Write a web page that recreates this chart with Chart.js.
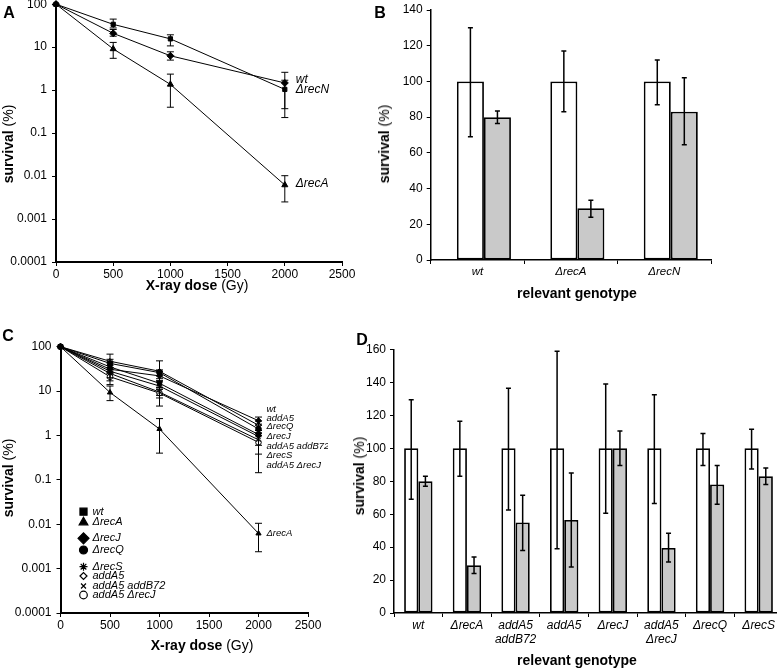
<!DOCTYPE html>
<html lang="en">
<head>
<meta charset="UTF-8">
<title>Survival after X-ray</title>
<script src="https://cdn.jsdelivr.net/npm/chart.js@4.4.1/dist/chart.umd.min.js"></script>
<style>
    body {
        margin: 0;
        width: 777px;
        height: 670px;
        overflow: hidden;
        background: #fff;
        position: relative;
        font-family: 'Liberation Sans', Arial, sans-serif;
        color: #000;
    }
    .box { position: absolute; }
    .txt {
        position: absolute;
        white-space: nowrap;
        transform: translate(-50%, -50%);
        font-size: 14px;
    }
    .txt b { font-weight: bold; }
    .rot { transform: translate(-50%, -50%) rotate(-90deg); }
    .letter { font-size: 16px; font-weight: bold; }
</style>
</head>
<body>
    <div class="box" id="boxA" style="left:0;top:-8px;width:362px;height:300px"><canvas id="chartA"></canvas></div>
    <div class="box" id="boxB" style="left:390px;top:-2px;width:341px;height:296px"><canvas id="chartB"></canvas></div>
    <div class="box" id="boxC" style="left:0;top:334px;width:328px;height:309px"><canvas id="chartC"></canvas></div>
    <div class="box" id="boxD" style="left:360px;top:337px;width:443px;height:316px"><canvas id="chartD"></canvas></div>

    <div class="txt letter" style="left:9px;top:13px">A</div>
    <div class="txt letter" style="left:380px;top:13px">B</div>
    <div class="txt letter" style="left:8px;top:336px">C</div>
    <div class="txt letter" style="left:362px;top:340px">D</div>

    <div class="txt" style="left:197px;top:285px"><b>X-ray dose</b> (Gy)</div>
    <div class="txt rot" style="left:8px;top:144px"><b>survival</b> (%)</div>
    <div class="txt" style="left:577px;top:293px"><b>relevant genotype</b></div>
    <div class="txt rot" style="left:384px;top:144px"><b>survival</b> (%)</div>
    <div class="txt" style="left:202px;top:645px"><b>X-ray dose</b> (Gy)</div>
    <div class="txt rot" style="left:8px;top:478px"><b>survival</b> (%)</div>
    <div class="txt" style="left:577px;top:660px"><b>relevant genotype</b></div>
    <div class="txt rot" style="left:359px;top:476px"><b>survival</b> (%)</div>

<script>
    // ---- data ----
    const doses = [0, 500, 1000, 2000];
    const logTicks = [0.0001, 0.001, 0.01, 0.1, 1, 10, 100];

    // panel A
    const aWt = [100, 21, 6.3, 1.47];
    const aWtHi = [null, 25.8, 7.8, 2.6];
    const aWtLo = [null, 18, 5.0, 0.37];
    const aRecN = [100, 34, 15.6, 1.04];
    const aRecNHi = [null, 45, 19.4, 1.7];
    const aRecNLo = [null, 28, 10.7, 0.23];
    const aRecA = [100, 9.1, 1.36, 0.0062];
    const aRecAHi = [null, 12.9, 2.36, 0.0102];
    const aRecALo = [null, 5.5, 0.40, 0.0025];
    const aLabels = ['wt', 'ΔrecN', 'ΔrecA'];
    const aLabelAt = [1.8, 1.0, 0.0065];

    // panel B
    const genoB = ['wt', 'ΔrecA', 'ΔrecN'];
    const bCtrl = [100, 100, 100];
    const bCtrlHi = [130, 117, 112];
    const bCtrlLo = [69, 83, 87];
    const bTreat = [80, 29, 83];
    const bTreatHi = [83.5, 33.5, 102];
    const bTreatLo = [76.5, 24, 64.5];

    // panel C
    const cWt = [100, 35, 15, 1.05];
    const cWtHi = [null, 45, 19, null];
    const cWtLo = [null, 27, 11, null];
    const cRecA = [100, 9.3, 1.4, 0.0062];
    const cRecAHi = [null, 13, 2.4, 0.0105];
    const cRecALo = [null, 6.1, 0.4, 0.0024];
    const cRecJ = [100, 31, 22, 2.15];
    const cRecJHi = [null, 38, 28, 2.6];
    const cRecJLo = [null, 25, 17, 1.8];
    const cRecQ = [100, 42, 26, 1.4];
    const cRecQHi = [null, 52, 30, 1.7];
    const cRecQLo = [null, 34, 22, 1.15];
    const cRecS = [100, 28, 13, 0.95];
    const cRecSHi = [null, 34, 16, 1.3];
    const cRecSLo = [null, 14, 8, 0.38];
    const cAddA5 = [100, 47, 28, 1.7];
    const cAddA5Hi = [null, 68, 48, 2.1];
    const cAddA5Lo = [null, 33, 17, 1.3];
    const cAddAB = [100, 25, 9.5, 0.8];
    const cAddABHi = [null, 30, 12, 1.0];
    const cAddABLo = [null, 20, 4.6, 0.6];
    const cAddRecJ = [100, 21, 9, 0.7];
    const cAddRecJHi = [null, 26, 11, 1.1];
    const cAddRecJLo = [null, 17, 7, 0.145];
    const cLabels = ['wt', 'addA5', 'ΔrecQ', 'ΔrecJ', 'addA5 addB72', 'ΔrecS', 'addA5 ΔrecJ', 'ΔrecA'];
    const cLabelAt = [3.9, 2.45, 1.58, 0.94, 0.58, 0.36, 0.21, 0.0063];

    // panel D
    const genoD = ['wt', 'ΔrecA', ['addA5', 'addB72'], 'addA5', 'ΔrecJ', ['addA5', 'ΔrecJ'], 'ΔrecQ', 'ΔrecS'];
    const dCtrl = [100, 100, 100, 100, 100, 100, 100, 100];
    const dCtrlHi = [129.5, 116.5, 136.5, 159, 139, 132.5, 109, 111.5];
    const dCtrlLo = [69, 83, 62.5, 39, 60.5, 66.5, 89.5, 87.5];
    const dTreat = [80, 29, 55, 56.5, 100, 39.5, 78, 83];
    const dTreatHi = [83, 34, 71.5, 85, 110.5, 48.5, 89.5, 88];
    const dTreatLo = [77, 24, 38, 28, 89.5, 31, 66, 78];

    // ---- common ----
    Chart.defaults.font.family = "'Liberation Sans', Arial, sans-serif";
    Chart.defaults.font.size = 12;
    Chart.defaults.color = '#000';
    const GREY = '#c9c9c9';

    // draws vertical error bars from dataset.errHi / dataset.errLo
    const errorBars = {
        id: 'errorBars',
        afterDatasetsDraw(chart) {
            const ctx = chart.ctx;
            chart.data.datasets.forEach((ds, i) => {
                if (!ds.errHi) return;
                const meta = chart.getDatasetMeta(i);
                const ys = chart.scales[meta.yAxisID];
                const c = ds.capHalf || 3.5;
                ctx.save();
                ctx.strokeStyle = '#000';
                ctx.lineWidth = ds.errWidth || 1;
                meta.data.forEach((el, j) => {
                    if (ds.errHi[j] == null) return;
                    const x = el.x;
                    const yh = ys.getPixelForValue(ds.errHi[j]);
                    const yl = ys.getPixelForValue(ds.errLo[j]);
                    ctx.beginPath();
                    ctx.moveTo(x, yh); ctx.lineTo(x, yl);
                    ctx.moveTo(x - c, yh); ctx.lineTo(x + c, yh);
                    ctx.moveTo(x - c, yl); ctx.lineTo(x + c, yl);
                    ctx.stroke();
                });
                ctx.restore();
            });
        }
    };

    // italic labels next to the last dose
    function endLabels(texts, at, dx, size) {
        return {
            id: 'endLabels',
            afterDraw(chart) {
                const ctx = chart.ctx;
                const x = chart.scales.x.getPixelForValue(2000) + dx;
                ctx.save();
                ctx.font = 'italic ' + size + "px 'Liberation Sans', Arial, sans-serif";
                ctx.fillStyle = '#000';
                ctx.textBaseline = 'middle';
                texts.forEach((t, i) => ctx.fillText(t, x, chart.scales.y.getPixelForValue(at[i])));
                ctx.restore();
            }
        };
    }

    function lineSet(label, ys, hi, lo, style, fill, radius) {
        return {
            label,
            data: doses.map((d, i) => ({ x: d, y: ys[i] })),
            errHi: hi, errLo: lo,
            borderColor: '#000', borderWidth: 1,
            pointStyle: style, pointRadius: radius,
            pointBackgroundColor: fill, pointBorderColor: '#000', pointBorderWidth: 1,
            clip: false
        };
    }

    function doseScales(yWidth, xHeight) {
        return {
            x: {
                type: 'linear', min: 0, max: 2500,
                ticks: { stepSize: 500, padding: 1, maxRotation: 0, callback: v => String(v) },
                afterFit: s => { s.height = xHeight; },
                grid: { drawOnChartArea: false, color: '#000', tickLength: 4 },
                border: { color: '#000', width: 2 }
            },
            y: {
                type: 'logarithmic', min: 0.0001, max: 100,
                afterBuildTicks: s => { s.ticks = logTicks.map(v => ({ value: v })); },
                afterFit: s => { s.width = yWidth; },
                ticks: { callback: v => String(v), padding: 5 },
                grid: { drawOnChartArea: false, color: '#000', tickLength: 4 },
                border: { color: '#000', width: 2 }
            }
        };
    }

    const baseOpts = {
        responsive: true,
        maintainAspectRatio: false,
        animation: false,
        devicePixelRatio: 1,
        plugins: { legend: { display: false }, tooltip: { enabled: false } }
    };

    // ---- A ----
    new Chart(document.getElementById('chartA'), {
        type: 'line',
        data: {
            datasets: [
                lineSet('wt', aWt, aWtHi, aWtLo, 'rectRot', '#000', 3.5),
                lineSet('ΔrecN', aRecN, aRecNHi, aRecNLo, 'rect', '#000', 3),
                lineSet('ΔrecA', aRecA, aRecAHi, aRecALo, 'triangle', '#000', 3.5)
            ]
        },
        options: Object.assign({}, baseOpts, {
            layout: { padding: { top: 12, right: 20, left: 0, bottom: 0 } },
            scales: doseScales(56, 30)
        }),
        plugins: [errorBars, endLabels(aLabels, aLabelAt, 11, 12)]
    });

    // ---- C ----
    const legendC = {
        id: 'legendC',
        afterDraw(chart) {
            const ctx = chart.ctx;
            const a = chart.chartArea;
            const rows = chart.data.datasets;
            const rowY = [165, 175.6, 191.6, 203.3, 220, 229.3, 239.3, 248.3];
            ctx.save();
            ctx.font = "italic 11px 'Liberation Sans', Arial, sans-serif";
            ctx.textBaseline = 'middle';
            rows.forEach((ds, i) => {
                const y = a.top + rowY[i];
                ctx.fillStyle = ds.pointBackgroundColor;
                ctx.strokeStyle = '#000';
                ctx.lineWidth = 1.2;
                Chart.helpers.drawPoint(ctx, { pointStyle: ds.pointStyle, radius: ds.legendRadius, rotation: 0, borderWidth: 1.2 }, a.left + 23, y);
                ctx.fillStyle = '#000';
                ctx.fillText(ds.label, a.left + 32, y);
            });
            ctx.restore();
        }
    };

    const cSets = [
        lineSet('wt', cWt, cWtHi, cWtLo, 'rect', '#000', 3),
        lineSet('ΔrecA', cRecA, cRecAHi, cRecALo, 'triangle', '#000', 3),
        lineSet('ΔrecJ', cRecJ, cRecJHi, cRecJLo, 'rectRot', '#000', 3),
        lineSet('ΔrecQ', cRecQ, cRecQHi, cRecQLo, 'circle', '#000', 2.8),
        lineSet('ΔrecS', cRecS, cRecSHi, cRecSLo, 'star', '#000', 3),
        lineSet('addA5', cAddA5, cAddA5Hi, cAddA5Lo, 'rectRot', '#fff', 2.8),
        lineSet('addA5 addB72', cAddAB, cAddABHi, cAddABLo, 'crossRot', '#000', 3),
        lineSet('addA5 ΔrecJ', cAddRecJ, cAddRecJHi, cAddRecJLo, 'circle', '#fff', 2.8)
    ];
    [5, 5, 5.5, 4, 4, 3.5, 3.5, 3.8].forEach((r, i) => { cSets[i].legendRadius = r; });

    new Chart(document.getElementById('chartC'), {
        type: 'line',
        data: { datasets: cSets },
        options: Object.assign({}, baseOpts, {
            layout: { padding: { top: 12.7, right: 20, left: 0, bottom: 0 } },
            scales: doseScales(60.5, 30)
        }),
        plugins: [errorBars, endLabels(cLabels, cLabelAt, 8, 9.5), legendC]
    });

    // ---- bar charts ----
    function barScales(yMax, yWidth, xHeight, xFont) {
        return {
            x: {
                type: 'category',
                afterFit: s => { s.height = xHeight; },
                ticks: { font: { size: xFont, style: 'italic' }, padding: 1, maxRotation: 0, autoSkip: false },
                grid: { drawOnChartArea: false, color: '#000', tickLength: 4, offset: true },
                border: { color: '#000', width: 1.5 }
            },
            y: {
                min: 0, max: yMax,
                afterFit: s => { s.width = yWidth; },
                ticks: { stepSize: 20, padding: 4 },
                grid: { drawOnChartArea: false, color: '#000', tickLength: 4 },
                border: { color: '#000', width: 1.5 }
            }
        };
    }

    function barSet(vals, hi, lo, fill, extra) {
        return Object.assign({
            data: vals, errHi: hi, errLo: lo, errWidth: 1.5, capHalf: 2.5,
            backgroundColor: fill, borderColor: '#000', borderWidth: 1.8, borderSkipped: false
        }, extra);
    }

    // B: the pair sits a little right of the category centre
    new Chart(document.getElementById('chartB'), {
        type: 'bar',
        data: {
            labels: genoB,
            datasets: [
                barSet(bCtrl, bCtrlHi, bCtrlLo, '#fff', { categoryPercentage: 0.30, barPercentage: 1.93 }),
                barSet(bTreat, bTreatHi, bTreatLo, GREY, { categoryPercentage: 0.857, barPercentage: 0.675 })
            ]
        },
        options: Object.assign({}, baseOpts, {
            layout: { padding: { top: 12, right: 20, left: 0, bottom: 0 } },
            scales: barScales(140, 40.7, 34, 11.5)
        }),
        plugins: [errorBars]
    });

    new Chart(document.getElementById('chartD'), {
        type: 'bar',
        data: {
            labels: genoD,
            datasets: [
                barSet(dCtrl, dCtrlHi, dCtrlLo, '#fff', { categoryPercentage: 0.584, barPercentage: 1 }),
                barSet(dTreat, dTreatHi, dTreatLo, GREY, { categoryPercentage: 0.584, barPercentage: 1 })
            ]
        },
        options: Object.assign({}, baseOpts, {
            layout: { padding: { top: 12.5, right: 20, left: 0, bottom: 0 } },
            scales: barScales(160, 34, 40, 12)
        }),
        plugins: [errorBars]
    });
</script>
</body>
</html>
